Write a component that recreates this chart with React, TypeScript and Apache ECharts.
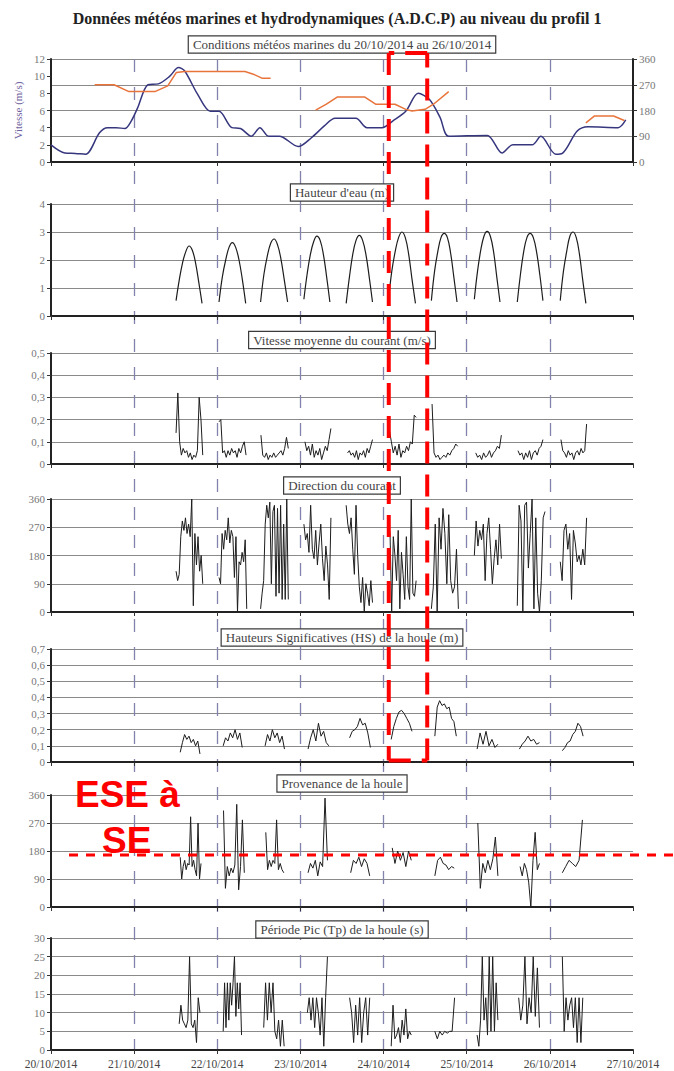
import React, { useEffect, useRef } from "react";
import * as echarts from "echarts";

// ---------- Texts ----------
const mainTitle =
  "Données météos marines et hydrodynamiques (A.D.C.P) au niveau du profil 1";
const panelTitles = [
  "Conditions météos marines du 20/10/2014 au 26/10/2014",
  "Hauteur d'eau (m)",
  "Vitesse moyenne du courant (m/s)",
  "Direction du courant",
  "Hauteurs Significatives (HS) de la houle (m)",
  "Provenance de la houle",
  "Période Pic (Tp) de la houle (s)",
];
const windAxisName = "Vitesse (m/s)";
const annotationText = ["ESE à", "SE"];

// time axis: hours since 20/10/2014 00:00
const startDay = 20;
const hourMin = 0;
const hourMax = 168;
const hourStep = 24;

// ---------- Panel 1: wind ----------
const windHours = [0, 4, 7, 10, 14, 16.3, 18.8, 21.3, 23.2, 25, 28, 31, 34.3, 36.8, 38.6, 42.3, 46, 48.5, 52.2, 54.7, 57.8, 60.3, 62.8, 65.9, 71.4, 75.1, 78.9, 82, 88, 91.2, 95.6, 98.7, 102.4, 106, 109.2, 112.3, 114.8, 125.9, 130.2, 133.3, 138.9, 141.4, 145.7, 147.6, 151.9, 155, 163.7, 165.9];
const windSpeed = [2.0, 1.05, 1.0, 0.9, 3.4, 4.0, 4.0, 3.9, 4.8, 6.3, 9.0, 9.1, 10.0, 11.0, 10.6, 7.9, 5.9, 5.9, 4.0, 3.9, 3.0, 4.0, 3.0, 3.0, 1.8, 2.8, 4.2, 5.1, 5.1, 4.0, 4.0, 4.8, 5.9, 8.0, 7.3, 5.2, 3.0, 3.1, 1.05, 2.0, 2.0, 3.0, 0.9, 1.0, 3.6, 4.1, 4.0, 4.9];
const windDirHours = [12.6, 18.2, 22.5, 30, 33.7, 36.2, 38.6, 56, 58.4, 60.9, 63.4, 70, 76.4, 79.5, 82.6, 90.6, 93.7, 99.3, 102.4, 104.2, 108, 110.4, 114.8, 130, 154.4, 156.9, 162.4, 165.5];
const windDirDeg = [270, 270, 246, 246, 266, 313, 316, 316, 307, 293, 293, null, 181, 202, 227, 227, 202, 202, 184, 178, 184, 202, 246, null, 137, 161, 161, 145];

// ---------- Panel 2: water height ----------
const waterWindows = [[36.1, 43.6], [48.5, 56.2], [60.5, 68.3], [73.0, 80.5], [85.2, 92.8], [97.4, 105.2], [109.8, 117.2], [122.2, 129.6], [134.6, 142.0], [147.0, 154.4]];
const waterLevel = [
  [0.55, 1.3, 1.9, 2.3, 2.5, 2.35, 1.9, 1.2, 0.45],
  [0.5, 1.4, 2.0, 2.45, 2.62, 2.45, 2.0, 1.3, 0.45],
  [0.5, 1.5, 2.15, 2.6, 2.75, 2.55, 2.05, 1.3, 0.5],
  [0.6, 1.5, 2.2, 2.65, 2.85, 2.7, 2.2, 1.4, 0.5],
  [0.45, 1.4, 2.2, 2.7, 2.88, 2.7, 2.2, 1.4, 0.5],
  [0.55, 1.6, 2.3, 2.8, 3.0, 2.8, 2.2, 1.3, 0.45],
  [0.55, 1.6, 2.3, 2.8, 2.95, 2.8, 2.25, 1.4, 0.5],
  [0.6, 1.6, 2.35, 2.85, 3.02, 2.85, 2.3, 1.4, 0.5],
  [0.5, 1.5, 2.3, 2.8, 2.95, 2.8, 2.3, 1.5, 0.55],
  [0.55, 1.6, 2.3, 2.85, 3.0, 2.8, 2.2, 1.3, 0.45],
];

// ---------- Panel 3: current speed ----------
const currentWindows = [[36.1, 43.8], [48.5, 56.3], [60.6, 68.5], [73.3, 80.8], [85.6, 92.8], [97.7, 105.4], [110.0, 117.4], [122.6, 130.0], [134.8, 142.0], [147.2, 154.6]];
const currentSpeed = [
  [0.14, 0.32, 0.1, 0.04, 0.07, 0.05, 0.06, 0.03, 0.05, 0.02, 0.04, 0.03, 0.06, 0.3, 0.2, 0.04],
  [0.19, 0.2, 0.05, 0.06, 0.03, 0.06, 0.04, 0.07, 0.05, 0.06, 0.03, 0.07, 0.05, 0.08, 0.1, 0.04],
  [0.13, 0.04, 0.03, 0.05, 0.02, 0.04, 0.03, 0.05, 0.03, 0.04, 0.05, 0.06, 0.04, 0.07, 0.12, 0.07],
  [0.1, 0.06, 0.08, 0.04, 0.09, 0.03, 0.06, 0.04, 0.07, 0.02, 0.05, 0.08, 0.06, 0.11, 0.16],
  [0.05, 0.06, 0.04, 0.05, 0.03, 0.06, 0.02, 0.05, 0.04, 0.06, 0.03, 0.07, 0.05, 0.08, 0.11],
  [0.15, 0.1, 0.05, 0.08, 0.04, 0.09, 0.03, 0.06, 0.05, 0.08, 0.06, 0.1, 0.09, 0.22, 0.21],
  [0.27, 0.05, 0.03, 0.04, 0.02, 0.03, 0.04, 0.03, 0.05, 0.04, 0.06, 0.07, 0.09, 0.08],
  [0.05, 0.03, 0.04, 0.02, 0.05, 0.03, 0.04, 0.06, 0.03, 0.05, 0.06, 0.08, 0.07, 0.13],
  [0.06, 0.04, 0.05, 0.02, 0.05, 0.03, 0.06, 0.02, 0.05, 0.06, 0.04, 0.07, 0.08, 0.11],
  [0.11, 0.06, 0.05, 0.03, 0.06, 0.04, 0.05, 0.02, 0.05, 0.06, 0.04, 0.07, 0.05, 0.06, 0.18],
];

// ---------- Panel 4: current direction ----------
const currentDirWindows = [[36.1, 43.8], [48.5, 56.5], [60.5, 68.5], [73.0, 80.8], [85.2, 92.8], [97.4, 105.4], [109.8, 117.6], [122.2, 130.0], [134.6, 142.6], [147.0, 154.6]];
const currentDir = [
  [130, 100, 120, 240, 290, 260, 300, 250, 280, 240, 360, 20, 250, 150, 240, 130, 180, 90],
  [110, 90, 250, 200, 260, 230, 300, 220, 260, 240, 110, 240, 0, 160, 150, 190, 160, 230, 10],
  [10, 60, 100, 280, 340, 300, 350, 90, 320, 340, 50, 330, 60, 340, 40, 280, 40, 360, 40],
  [280, 230, 250, 190, 340, 200, 170, 260, 150, 220, 280, 170, 100, 210, 150, 40, 300],
  [340, 280, 250, 300, 200, 120, 340, 180, 80, 30, 110, 0, 90, 60, 20, 100, 30],
  [280, 250, 0, 240, 180, 100, 260, 10, 190, 120, 40, 240, 80, 40, 360, 60, 50, 100],
  [10, 80, 280, 0, 300, 200, 330, 250, 90, 310, 100, 60, 80, 200, 10],
  [180, 290, 210, 260, 230, 280, 100, 250, 300, 200, 90, 170, 230, 150, 280, 170],
  [20, 340, 290, 0, 340, 350, 140, 250, 360, 10, 300, 60, 0, 100, 300, 320],
  [160, 100, 260, 280, 200, 250, 40, 260, 220, 160, 180, 150, 200, 150, 300],
];

// ---------- Panel 5: significant wave height ----------
const hsWindows = [[37.3, 43.0], [49.7, 55.2], [61.8, 67.4], [74.2, 80.2], [86.2, 92.2], [98.2, 104.2], [110.8, 117.0], [123.0, 129.0], [135.2, 141.0], [147.6, 153.6]];
const hsValues = [
  [0.06, 0.12, 0.17, 0.14, 0.16, 0.12, 0.14, 0.1, 0.13, 0.05],
  [0.1, 0.15, 0.13, 0.18, 0.15, 0.2, 0.14, 0.18, 0.09],
  [0.1, 0.17, 0.13, 0.2, 0.15, 0.18, 0.12, 0.16, 0.08],
  [0.08, 0.15, 0.2, 0.13, 0.24, 0.16, 0.19, 0.12, 0.1],
  [0.15, 0.19, 0.2, 0.22, 0.27, 0.23, 0.24, 0.18, 0.09],
  [0.14, 0.22, 0.27, 0.31, 0.32, 0.3, 0.27, 0.24, 0.19],
  [0.16, 0.34, 0.38, 0.35, 0.36, 0.33, 0.34, 0.27, 0.25, 0.16],
  [0.08, 0.18, 0.11, 0.19, 0.1, 0.14, 0.09, 0.11],
  [0.08, 0.11, 0.13, 0.16, 0.13, 0.14, 0.11, 0.12],
  [0.07, 0.09, 0.12, 0.13, 0.17, 0.19, 0.24, 0.22, 0.16],
];

// ---------- Panel 6: wave direction ----------
const waveDirWindows = [[37.3, 43.3], [49.8, 55.8], [62.0, 67.2], [74.2, 79.8], [86.5, 92.0], [98.5, 104.0], [110.8, 116.4], [123.2, 129.0], [135.4, 141.0], [147.6, 153.4]];
const waveDir = [
  [160, 90, 130, 150, 120, 140, 135, 290, 130, 150, 120, 100, 270, 90, 140],
  [310, 60, 130, 100, 125, 110, 135, 330, 55, 130, 280, 110],
  [240, 120, 150, 130, 150, 140, 280, 120, 140, 120, 110],
  [110, 140, 125, 150, 100, 145, 130, 350, 150],
  [110, 150, 140, 160, 130, 155, 140, 100],
  [190, 140, 180, 150, 175, 130, 180, 150],
  [100, 150, 160, 140, 135, 120, 130, 125],
  [270, 60, 140, 110, 150, 120, 155, 225, 100],
  [130, 100, 140, 120, 80, 0, 150, 240, 120, 140],
  [110, 130, 150, 140, 130, 150, 280],
];

// ---------- Panel 7: peak period ----------
const tpWindows = [[37.0, 43.0], [49.7, 55.0], [61.4, 67.3], [74.0, 79.8], [86.2, 92.0], [98.2, 104.0], [110.8, 116.5], [123.0, 129.0], [135.0, 141.0], [147.6, 153.5]];
const tpValues = [
  [7, 12, 8, 7, 6, 8, 25, 7, 6, 8, 2, 14, 10],
  [5, 18, 6, 18, 8, 18, 12, 18, 25, 9, 18, 11, 18, 4],
  [6, 18, 8, 18, 10, 18, 5, 3, 8, 1, 8, 1],
  [10, 14, 8, 14, 6, 14, 10, 4, 14, 1, 14, 25],
  [14, 10, 2, 12, 4, 14, 2, 10, 14, 4, 14],
  [1, 12, 3, 4, 6, 2, 8, 4, 11, 3, 5, 4],
  [5, 3, 5, 4, 5, 4.5, 5, 5, 14],
  [4, 1, 8, 25, 8, 14, 4, 25, 5, 25, 5, 18, 8],
  [14, 8, 12, 25, 7, 14, 10, 25, 9, 22, 6],
  [25, 5, 14, 8, 12, 14, 6, 14, 2, 14, 2, 14],
];

// ---------- Annotation (in data units) ----------
const focusStartHour = 97.5;
const focusEndHour = 108.6;
const waveDirThreshold = 167;

// ---------- helpers ----------
const SERIF = "'Liberation Serif', 'DejaVu Serif', serif";
const SANS = "'Liberation Sans', Arial, sans-serif";

function windowsToData(windows: number[][], values: number[][]) {
  const out: any[] = [];
  windows.forEach(([s, e], i) => {
    const vals = values[i];
    const n = vals.length;
    vals.forEach((v, j) => out.push([s + ((e - s) * j) / (n - 1), v]));
    out.push([e + 0.3, null]);
  });
  return out;
}

const comma = (v: number) => (v === 0 ? "0" : v.toFixed(1).replace(".", ","));

const grids = [
  { top: 59, height: 103 },
  { top: 204, height: 112 },
  { top: 353, height: 111 },
  { top: 499, height: 113 },
  { top: 649, height: 113 },
  { top: 795, height: 112 },
  { top: 938, height: 112 },
];
const titleCenters = [44.5, 192.5, 340, 485.5, 637.5, 783.5, 929.5];

export default function App() {
  const ref = useRef<HTMLDivElement>(null);

  useEffect(() => {
    if (!ref.current) return;
    const chart = echarts.init(ref.current, undefined, { renderer: "svg" });

    const gridOpt: any[] = grids.map((g) => ({ left: 51, right: 41, top: g.top, height: g.height }));
    gridOpt.push({ left: 51, right: 41, top: 59, bottom: 21 });

    const xAxes: any[] = grids.map((_, i) => ({
      type: "value",
      gridIndex: i,
      min: hourMin,
      max: hourMax,
      interval: hourStep,
      axisLine: { show: true, onZero: false, lineStyle: { color: "#222", width: 2 } },
      axisTick: { show: true, length: 4, lineStyle: { color: "#333", width: 1 } },
      splitLine: { show: false },
      axisLabel: {
        show: i === grids.length - 1,
        margin: 8,
        color: "#444",
        fontFamily: SERIF,
        fontSize: 11.5,
        formatter: (v: number) => `${startDay + v / 24}/10/2014`,
      },
    }));
    xAxes.push({
      type: "value",
      gridIndex: 7,
      min: hourMin,
      max: hourMax,
      interval: hourStep,
      axisLine: { show: false },
      axisTick: { show: false },
      axisLabel: { show: false },
      splitLine: {
        show: true,
        showMinLine: false,
        showMaxLine: false,
        lineStyle: { color: "#8282ad", width: 1.3, type: [13, 15] },
      },
    });

    const yBase = (gridIndex: number, min: number, max: number, interval: number, extra: any = {}) => ({
      type: "value",
      gridIndex,
      min,
      max,
      interval,
      axisLine: { show: true, onZero: false, lineStyle: { color: "#222", width: 2 } },
      axisTick: { show: true, length: 4, lineStyle: { color: "#333" } },
      axisLabel: { color: "#777", fontFamily: SERIF, fontSize: 11, margin: 6 },
      splitLine: { show: true, lineStyle: { color: "#8a8a8a", width: 1 } },
      ...extra,
    });

    const yAxes: any[] = [
      yBase(0, 0, 12, 2, {
        splitLine: { show: false },
        name: windAxisName,
        nameLocation: "middle",
        nameGap: 28,
        nameTextStyle: { color: "#6f62a0", fontFamily: SERIF, fontSize: 11 },
      }),
      yBase(0, 0, 360, 90, { position: "right" }),
      yBase(1, 0, 4, 1),
      yBase(2, 0, 0.5, 0.1, { axisLabel: { color: "#777", fontFamily: SERIF, fontSize: 11, margin: 6, formatter: comma } }),
      yBase(3, 0, 360, 90),
      yBase(4, 0, 0.7, 0.1, { axisLabel: { color: "#777", fontFamily: SERIF, fontSize: 11, margin: 6, formatter: comma } }),
      yBase(5, 0, 360, 90),
      yBase(6, 0, 30, 5),
      { type: "value", gridIndex: 7, min: 0, max: 1, show: false },
    ];

    const lineS = (xi: number, yi: number, data: any[], extra: any = {}) => ({
      type: "line",
      xAxisIndex: xi,
      yAxisIndex: yi,
      data,
      showSymbol: false,
      symbol: "none",
      connectNulls: false,
      lineStyle: { color: "#1d1d1d", width: 1 },
      z: 3,
      ...extra,
    });

    const series: any[] = [
      lineS(0, 0, windHours.map((h, i) => [h, windSpeed[i]]), {
        smooth: 0.3,
        lineStyle: { color: "#36367e", width: 1.5 },
      }),
      lineS(0, 1, windDirHours.map((h, i) => [h, windDirDeg[i]]), {
        lineStyle: { color: "#e8743b", width: 1.5 },
      }),
      lineS(1, 2, windowsToData(waterWindows, waterLevel), { smooth: 0.4, lineStyle: { color: "#1d1d1d", width: 1.2 } }),
      lineS(2, 3, windowsToData(currentWindows, currentSpeed)),
      lineS(3, 4, windowsToData(currentDirWindows, currentDir)),
      lineS(4, 5, windowsToData(hsWindows, hsValues)),
      lineS(5, 6, windowsToData(waveDirWindows, waveDir)),
      lineS(6, 7, windowsToData(tpWindows, tpValues)),
    ];

    chart.setOption({
      animation: false,
      backgroundColor: "#ffffff",
      title: {
        text: mainTitle,
        left: "center",
        top: 5,
        textStyle: { fontFamily: SERIF, fontWeight: "bold", fontSize: 16, color: "#222" },
      },
      grid: gridOpt,
      xAxis: xAxes,
      yAxis: yAxes,
      series,
    });

    // annotation positions via the chart's own scales
    const xL = chart.convertToPixel({ xAxisIndex: 0 }, focusStartHour) as number;
    const xR = chart.convertToPixel({ xAxisIndex: 0 }, focusEndHour) as number;
    const xMid = chart.convertToPixel({ xAxisIndex: 0 }, (hourMin + hourMax) / 2) as number;
    const yTop = chart.convertToPixel({ yAxisIndex: 0 }, 12.7) as number;
    const yBot = chart.convertToPixel({ yAxisIndex: 5 }, 0.01) as number;
    const yThr = chart.convertToPixel({ yAxisIndex: 6 }, waveDirThreshold) as number;
    const xThrStart = chart.convertToPixel({ xAxisIndex: 5 }, 5.2) as number;

    const red = "#ff0000";
    const redDash = { stroke: red, lineWidth: 4, lineDash: [22, 11] };

    const graphic: any[] = panelTitles.map((t, i) => ({
      type: "text",
      x: xMid,
      y: titleCenters[i],
      z: 50,
      style: {
        text: t,
        align: "center",
        verticalAlign: "middle",
        font: `13px ${SERIF}`,
        fill: "#444",
        backgroundColor: "#fff",
        borderColor: "#3a3a3a",
        borderWidth: 1.2,
        padding: [2, 4, 1, 4],
      },
    }));

    graphic.push(
      { type: "line", z: 60, shape: { x1: xL, y1: yTop, x2: xL, y2: yBot }, style: redDash },
      { type: "line", z: 60, shape: { x1: xR, y1: yBot, x2: xR, y2: yTop }, style: redDash },
      { type: "line", z: 60, shape: { x1: xR, y1: yTop, x2: xL, y2: yTop }, style: redDash },
      { type: "line", z: 60, shape: { x1: xL, y1: yBot, x2: xR, y2: yBot }, style: redDash },
      {
        type: "line",
        z: 60,
        shape: { x1: xThrStart, y1: yThr, x2: 674, y2: yThr },
        style: { stroke: red, lineWidth: 3, lineDash: [9, 8] },
      },
      {
        type: "text",
        z: 61,
        x: 75,
        y: 776,
        style: { text: annotationText[0], font: `bold 37px ${SANS}`, fill: red, verticalAlign: "top" },
      },
      {
        type: "text",
        z: 61,
        x: 102,
        y: 822,
        style: { text: annotationText[1], font: `bold 37px ${SANS}`, fill: red, verticalAlign: "top" },
      }
    );

    chart.setOption({ graphic });

    return () => chart.dispose();
  }, []);

  return (
    <div
      ref={ref}
      style={{ position: "absolute", left: 0, top: 0, width: 674, height: 1071, background: "#fff" }}
    />
  );
}
